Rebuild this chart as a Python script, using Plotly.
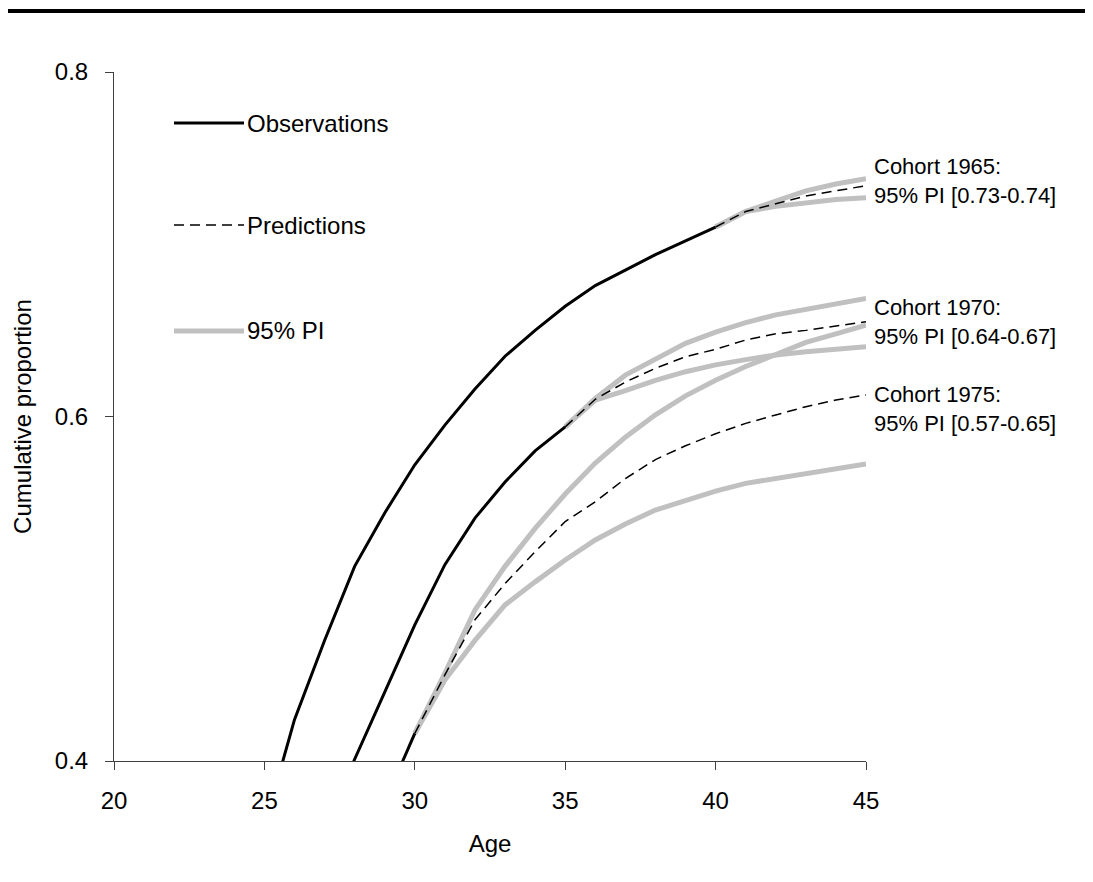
import plotly.graph_objects as go

# ---------------- data ----------------
ages_obs_1965 = list(range(25, 41))
obs_1965 = [0.362, 0.424, 0.470, 0.513, 0.544, 0.572, 0.595, 0.616, 0.635, 0.650,
            0.664, 0.676, 0.685, 0.694, 0.702, 0.710]
ages_obs_1970 = list(range(27, 36))
obs_1970 = [0.360, 0.401, 0.440, 0.479, 0.514, 0.541, 0.562, 0.580, 0.594]
ages_obs_1975 = [29, 30]
obs_1975 = [0.376, 0.416]

ages_pred_1965 = list(range(40, 46))
hi_1965 = [0.710, 0.719, 0.725, 0.731, 0.735, 0.738]
lo_1965 = [0.710, 0.719, 0.722, 0.724, 0.726, 0.727]
pred_1965 = [0.710, 0.719, 0.7235, 0.728, 0.731, 0.734]

ages_pred_1970 = list(range(35, 46))
hi_1970 = [0.594, 0.6105, 0.624, 0.633, 0.6425, 0.649, 0.6545, 0.659, 0.662, 0.665, 0.6686]
lo_1970 = [0.594, 0.6095, 0.615, 0.621, 0.626, 0.630, 0.633, 0.6357, 0.6376, 0.6392, 0.6405]
pred_1970 = [0.594, 0.610, 0.620, 0.628, 0.6347, 0.639, 0.6444, 0.648, 0.650, 0.6527, 0.655]

ages_pred_1975 = list(range(30, 46))
hi_1975 = [0.416, 0.451, 0.4877, 0.513, 0.535, 0.555, 0.573, 0.588, 0.601, 0.612,
           0.621, 0.629, 0.636, 0.643, 0.648, 0.653]
lo_1975 = [0.416, 0.447, 0.470, 0.4906, 0.504, 0.5167, 0.5283, 0.5376, 0.5457, 0.5515,
           0.5567, 0.5612, 0.5641, 0.567, 0.5699, 0.5724]
pred_1975 = [0.416, 0.450, 0.482, 0.503, 0.5215, 0.539, 0.5505, 0.564, 0.575, 0.583,
             0.590, 0.596, 0.6009, 0.6057, 0.6096, 0.6125]

x_ticks = [20, 25, 30, 35, 40, 45]
y_ticks = [0.4, 0.6, 0.8]
y_tick_labels = ["0.4", "0.6", "0.8"]

cohort_labels = ["Cohort 1965:<br>95% PI [0.73-0.74]",
                 "Cohort 1970:<br>95% PI [0.64-0.67]",
                 "Cohort 1975:<br>95% PI [0.57-0.65]"]
legend_labels = ["Observations", "Predictions", "95% PI"]

# ---------------- styles ----------------
FONT = "Arial, 'Liberation Sans', Helvetica, sans-serif"
GRAY = "#c0c0c0"
BLACK = "#000000"
AXIS = "#404040"
OBS_W = 3
PI_W = 5
PRED_W = 1.5
DASH = "10px,6px"
FS = 24

fig = go.Figure()

pi_sets = [(ages_pred_1965, hi_1965, lo_1965),
           (ages_pred_1970, hi_1970, lo_1970),
           (ages_pred_1975, hi_1975, lo_1975)]
for ages, hi, lo in pi_sets:
    for ys in (hi, lo):
        fig.add_trace(go.Scatter(x=ages, y=ys, mode="lines",
                                 line=dict(color=GRAY, width=PI_W),
                                 showlegend=False, hoverinfo="skip"))

for ages, pr in [(ages_pred_1965, pred_1965), (ages_pred_1970, pred_1970),
                 (ages_pred_1975, pred_1975)]:
    fig.add_trace(go.Scatter(x=ages, y=pr, mode="lines",
                             line=dict(color=BLACK, width=PRED_W, dash=DASH),
                             showlegend=False, hoverinfo="skip"))

for ages, ob in [(ages_obs_1965, obs_1965), (ages_obs_1970, obs_1970),
                 (ages_obs_1975, obs_1975)]:
    fig.add_trace(go.Scatter(x=ages, y=ob, mode="lines",
                             line=dict(color=BLACK, width=OBS_W),
                             showlegend=False, hoverinfo="skip"))

# page has an 8px body margin; compensate so the picture lines up
OFF = 8
W, H = 1093 - OFF, 882 - 2 * OFF
L, R, T, B = 114, 866, 72, 761   # target plot area in page pixels

def px_x(p):
    return (p - L) / (R - L)

def px_y(p):
    return (B - p) / (B - T)

shapes = []
# top rule
shapes.append(dict(type="line", xref="paper", yref="paper",
                   x0=px_x(5), x1=px_x(1100), y0=px_y(11), y1=px_y(11),
                   line=dict(color=BLACK, width=4)))
# legend samples
leg_y = [123, 225, 331]
leg_styles = [dict(color=BLACK, width=OBS_W),
              dict(color=BLACK, width=PRED_W, dash=DASH),
              dict(color=GRAY, width=PI_W)]
annotations = []
for yy, st, lab in zip(leg_y, leg_styles, legend_labels):
    shapes.append(dict(type="line", xref="paper", yref="paper",
                       x0=px_x(174), x1=px_x(244), y0=px_y(yy), y1=px_y(yy),
                       line=st))
    annotations.append(dict(x=px_x(245), y=px_y(yy), xref="paper", yref="paper",
                            text=lab, showarrow=False, xanchor="left", yanchor="middle",
                            font=dict(family=FONT, size=FS, color=BLACK)))

for yy, lab in zip([181, 321.5, 408.5], cohort_labels):
    annotations.append(dict(x=px_x(872), y=px_y(yy), xref="paper", yref="paper",
                            text=lab, showarrow=False, xanchor="left", yanchor="middle",
                            align="left",
                            font=dict(family=FONT, size=22, color=BLACK)))

fig.update_layout(
    width=W, height=H,
    margin=dict(l=L - OFF, r=1093 - R, t=T - OFF, b=882 - B - 2 * OFF + OFF, pad=0),
    paper_bgcolor="white", plot_bgcolor="white",
    font=dict(family=FONT, size=FS, color=BLACK),
    shapes=shapes, annotations=annotations,
    showlegend=False,
)
fig.update_xaxes(range=[20, 45], tickvals=x_ticks, ticktext=[str(v) for v in x_ticks],
                 showgrid=False, zeroline=False, showline=True, linecolor=AXIS,
                 linewidth=1, ticks="outside", ticklen=8, tickcolor=AXIS,
                 ticklabelstandoff=10,
                 tickfont=dict(family=FONT, size=FS, color=BLACK),
                 title=dict(text="Age", font=dict(family=FONT, size=FS, color=BLACK),
                            standoff=22))
fig.update_yaxes(range=[0.4, 0.8], tickvals=y_ticks, ticktext=y_tick_labels,
                 showgrid=False, zeroline=False, showline=True, linecolor=AXIS,
                 linewidth=1, ticks="outside", ticklen=8, tickcolor=AXIS,
                 ticklabelstandoff=12,
                 tickfont=dict(family=FONT, size=FS, color=BLACK),
                 title=dict(text="Cumulative proportion",
                            font=dict(family=FONT, size=FS, color=BLACK), standoff=16))

fig.write_html("out.html")
